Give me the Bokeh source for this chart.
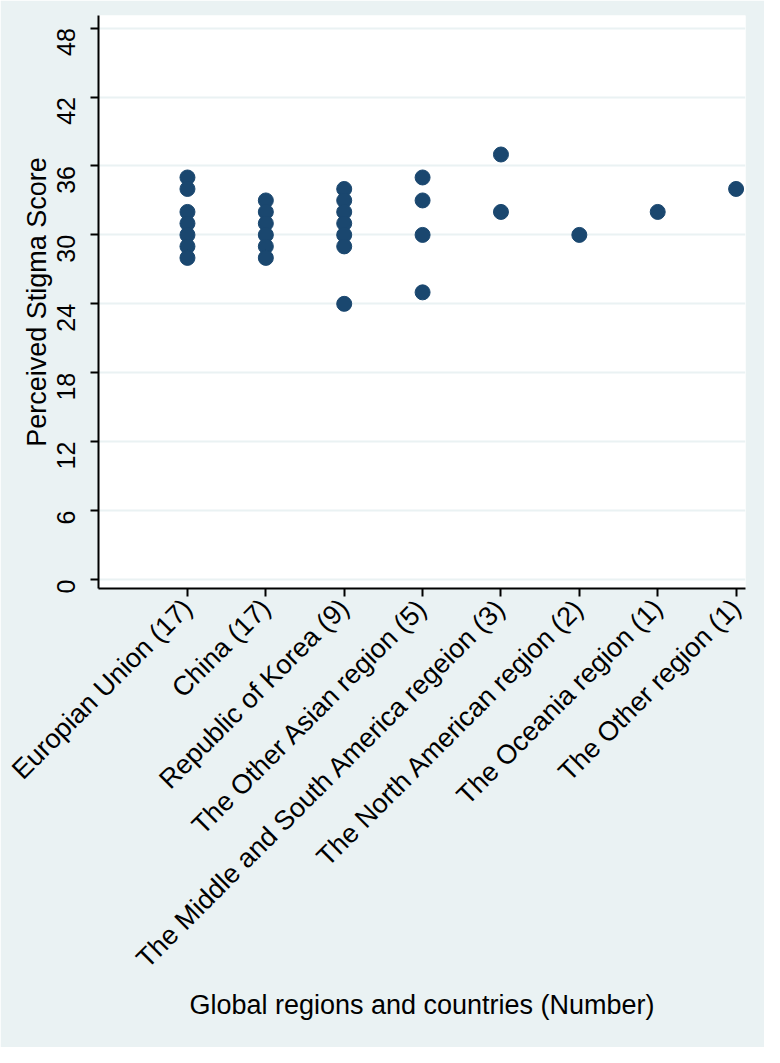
import math
from bokeh.plotting import figure
from bokeh.models import FixedTicker, Range1d, ColumnDataSource
from bokeh.embed import file_html
from bokeh.resources import INLINE

categories = [
    "Europian Union (17)",
    "China (17)",
    "Republic of Korea (9)",
    "The Other Asian region (5)",
    "The Middle and South America regeion (3)",
    "The North American region (2)",
    "The Oceania region (1)",
    "The Other region (1)",
]
eu = [35, 34, 32, 31, 30, 29, 28]
china = [33, 32, 31, 30, 29, 28]
korea = [34, 33, 32, 31, 30, 29, 24]
other_asia = [35, 33, 30, 25]
middle_south_america = [37, 32]
north_america = [30]
oceania = [32]
other_region = [34]
y_ticks = [0, 6, 12, 18, 24, 30, 36, 42, 48]

groups = [eu, china, korea, other_asia, middle_south_america,
          north_america, oceania, other_region]
xs, ys = [], []
for i, g in enumerate(groups):
    for v in g:
        xs.append(i + 1)
        ys.append(v)
src = ColumnDataSource(dict(x=xs, y=ys))

BG = "#EAF2F3"
FONT = "Liberation Sans"

p = figure(width=764, height=1047,
           x_range=Range1d(-0.135, 8.12), y_range=Range1d(-0.78, 49.1),
           output_backend="svg", toolbar_location=None,
           min_border_left=98, min_border_right=19,
           min_border_top=15, min_border_bottom=459)
p.background_fill_color = "white"
p.border_fill_color = BG
p.outline_line_color = None

p.scatter("x", "y", source=src, size=15, color="#1A476F")

p.xgrid.visible = False
p.ygrid.grid_line_color = BG
p.ygrid.grid_line_width = 2
p.ygrid.ticker = FixedTicker(ticks=y_ticks)

p.xaxis.ticker = FixedTicker(ticks=list(range(1, 9)))
p.xaxis.major_label_overrides = {i + 1: c for i, c in enumerate(categories)}
p.xaxis.major_label_orientation = math.pi / 4
p.xaxis.axis_label = "Global regions and countries (Number)"

p.yaxis.ticker = FixedTicker(ticks=y_ticks)
p.yaxis.major_label_orientation = math.pi / 2
p.yaxis.axis_label = "Perceived Stigma Score"

for ax in (p.xaxis[0], p.yaxis[0]):
    ax.axis_line_color = "black"
    ax.axis_line_width = 2
    ax.major_tick_line_color = "black"
    ax.major_tick_line_width = 2
    ax.major_tick_out = 8
    ax.major_tick_in = 0
    ax.minor_tick_line_color = None
    ax.major_label_text_font = FONT
    ax.major_label_text_color = "black"
    ax.axis_label_text_font = FONT
    ax.axis_label_text_font_size = "27px"
    ax.axis_label_text_font_style = "normal"
    ax.axis_label_text_color = "black"

p.xaxis.major_label_text_font_size = "27px"
p.yaxis.major_label_text_font_size = "25px"
p.yaxis.major_label_standoff = 24
p.yaxis.axis_label_standoff = -6
p.xaxis.major_label_standoff = 7
p.xaxis.axis_label_standoff = 3

open("out.html", "w").write(file_html(p, INLINE))
